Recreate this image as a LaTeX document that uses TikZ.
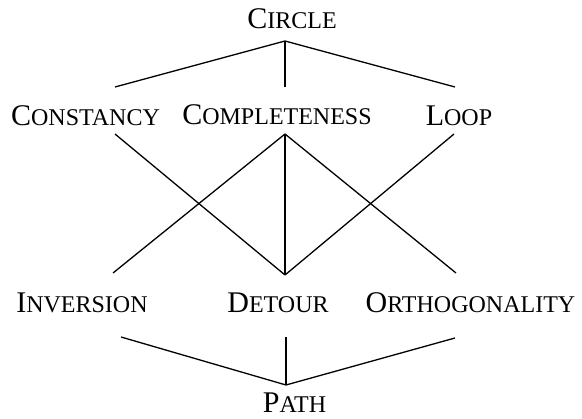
\documentclass[tikz,border=0pt]{standalone}
\usepackage{fontspec}
\setmainfont{Liberation Serif}
\usepackage{tikz}
\newcommand{\fakesc}[2]{#1{\fontsize{24}{24}\selectfont #2}}
\tikzset{
    term/.style={anchor=base, inner sep=0pt, text depth=0pt, font=\fontsize{30}{30}\selectfont},
    link/.style={line width=1.3pt}
}

\begin{document}
\begin{tikzpicture}[x=1pt, y=-1pt]
    \useasboundingbox (0,0) rectangle (582,419);
    % terms
    \node[term] (circle)        at (292,29)    {\fakesc{C}{IRCLE}};
    \node[term] (constancy)     at (85.5,126)  {\fakesc{C}{ONSTANCY}};
    \node[term] (completeness)  at (277,125)   {\fakesc{C}{OMPLETENESS}};
    \node[term] (loop)          at (459,126)   {\fakesc{L}{OOP}};
    \node[term] (inversion)     at (82,313)    {\fakesc{I}{NVERSION}};
    \node[term] (detour)        at (278,313)   {\fakesc{D}{ETOUR}};
    \node[term] (orthogonality) at (470.5,313) {\fakesc{O}{RTHOGONALITY}};
    \node[term] (path)          at (294.5,413) {\fakesc{P}{ATH}};
    % attachment points
    \coordinate (circle-b)        at (285,41);
    \coordinate (constancy-t)     at (115,87);
    \coordinate (completeness-t)  at (285,87);
    \coordinate (loop-t)          at (455,87);
    \coordinate (constancy-b)     at (115,134);
    \coordinate (completeness-b)  at (285,134);
    \coordinate (loop-b)          at (454,134);
    \coordinate (inversion-t)     at (113,273);
    \coordinate (detour-t)        at (285,275);
    \coordinate (orthogonality-t) at (456,273);
    \coordinate (inversion-b)     at (121,337);
    \coordinate (detour-b)        at (286,337);
    \coordinate (orthogonality-b) at (455,338);
    \coordinate (path-t)          at (286,385);
    % links
    \foreach \n in {constancy,completeness,loop}
        \draw[link] (circle-b) -- (\n-t);
    \foreach \n in {inversion,detour,orthogonality}
        \draw[link] (completeness-b) -- (\n-t);
    \draw[link] (constancy-b) -- (detour-t);
    \draw[link] (loop-b) -- (detour-t);
    \foreach \n in {inversion,detour,orthogonality}
        \draw[link] (\n-b) -- (path-t);
\end{tikzpicture}
\end{document}
